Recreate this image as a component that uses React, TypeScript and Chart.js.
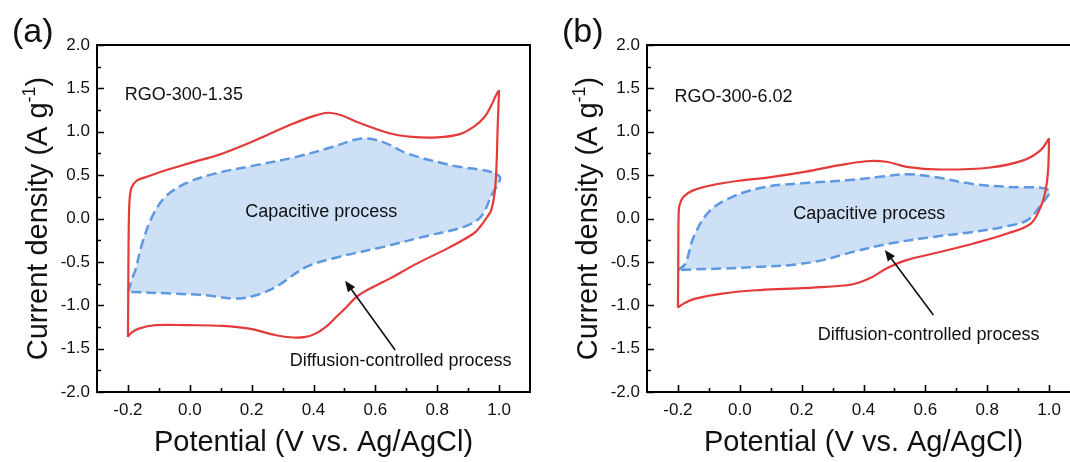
import React, { useEffect, useRef } from "react";
import { Chart, registerables } from "chart.js";

Chart.register(...registerables);

const FONT = "'Liberation Sans', Arial, sans-serif";

// Axis ticks
const X_TICKS = [-0.2, 0, 0.2, 0.4, 0.6, 0.8, 1.0];
const X_MINOR = [-0.1, 0.1, 0.3, 0.5, 0.7, 0.9];
const Y_TICKS = [-2, -1.5, -1, -0.5, 0, 0.5, 1, 1.5, 2];
const Y_MINOR = [-1.75, -1.25, -0.75, -0.25, 0.25, 0.75, 1.25, 1.75];

// RGO-300-1.35: measured CV, anodic sweep (-0.2 -> 1.0 V)
const RGO135_ANODIC: [number, number][] = [
  [-0.2, -1.365], [-0.199, -0.9], [-0.198, -0.3], [-0.195, 0.2], [-0.188, 0.36],
  [-0.17, 0.44], [-0.14, 0.48], [-0.1, 0.53], [-0.003, 0.635], [0.106, 0.75],
  [0.214, 0.904], [0.323, 1.077], [0.4, 1.18], [0.447, 1.219], [0.49, 1.19],
  [0.539, 1.115], [0.648, 0.98], [0.72, 0.94], [0.8, 0.935], [0.87, 0.97],
  [0.919, 1.06], [0.953, 1.17], [0.973, 1.29], [0.99, 1.42], [1.0, 1.48],
];
// RGO-300-1.35: measured CV, cathodic sweep (1.0 -> -0.2 V)
const RGO135_CATHODIC: [number, number][] = [
  [1.0, 1.48], [0.995, 1.0], [0.992, 0.635], [0.986, 0.3], [0.975, 0.1],
  [0.962, 0.02], [0.94, -0.09], [0.919, -0.17], [0.843, -0.327], [0.734, -0.52],
  [0.648, -0.69], [0.615, -0.75], [0.572, -0.827], [0.539, -0.904], [0.507, -1.02],
  [0.475, -1.13], [0.44, -1.25], [0.405, -1.33], [0.37, -1.368], [0.334, -1.372],
  [0.279, -1.346], [0.192, -1.27], [0.106, -1.238], [-0.003, -1.23],
  [-0.111, -1.23], [-0.165, -1.27], [-0.19, -1.32], [-0.2, -1.365],
];
// RGO-300-1.35: capacitive contribution loop
const RGO135_CAPACITIVE: [number, number][] = [
  [-0.2, -0.846], [-0.185, -0.68], [-0.176, -0.596], [-0.154, -0.288], [-0.122, 0.019],
  [-0.079, 0.25], [-0.014, 0.404], [0.084, 0.52], [0.214, 0.615], [0.344, 0.71],
  [0.463, 0.827], [0.53, 0.905], [0.561, 0.923], [0.604, 0.904], [0.648, 0.846],
  [0.702, 0.75], [0.843, 0.615], [1.0, 0.49], [0.973, 0.25], [0.941, 0.019],
  [0.886, -0.096], [0.756, -0.21], [0.626, -0.327], [0.485, -0.44], [0.377, -0.558],
  [0.279, -0.788], [0.214, -0.885], [0.149, -0.923], [0.051, -0.885], [-0.057, -0.865],
  [-0.2, -0.846],
];

// RGO-300-6.02: measured CV, anodic sweep
const RGO602_ANODIC: [number, number][] = [
  [-0.2, -1.027], [-0.199, -0.6], [-0.198, 0.0], [-0.195, 0.15], [-0.182, 0.25],
  [-0.149, 0.327], [-0.089, 0.385], [-0.003, 0.435], [0.106, 0.48], [0.214, 0.54],
  [0.323, 0.615], [0.409, 0.66], [0.474, 0.654], [0.539, 0.596], [0.648, 0.565],
  [0.81, 0.588], [0.919, 0.673], [0.973, 0.788], [1.0, 0.923],
];
// RGO-300-6.02: measured CV, cathodic sweep
const RGO602_CATHODIC: [number, number][] = [
  [1.0, 0.923], [0.997, 0.558], [0.989, 0.327], [0.973, 0.135], [0.941, -0.058],
  [0.865, -0.173], [0.756, -0.288], [0.626, -0.404], [0.539, -0.48], [0.474, -0.577],
  [0.42, -0.69], [0.366, -0.758], [0.279, -0.788], [0.16, -0.808], [0.051, -0.827],
  [-0.057, -0.865], [-0.144, -0.923], [-0.182, -0.981], [-0.2, -1.027],
];
// RGO-300-6.02: capacitive contribution loop
const RGO602_CAPACITIVE: [number, number][] = [
  [-0.2, -0.596], [-0.176, -0.52], [-0.149, -0.212], [-0.1, 0.077], [-0.024, 0.25],
  [0.084, 0.365], [0.214, 0.41], [0.344, 0.44], [0.453, 0.48], [0.539, 0.51],
  [0.626, 0.48], [0.756, 0.396], [0.865, 0.365], [1.0, 0.327], [0.973, 0.154],
  [0.93, -0.019], [0.865, -0.088], [0.756, -0.154], [0.626, -0.212], [0.485, -0.288],
  [0.366, -0.385], [0.268, -0.48], [0.16, -0.538], [0.051, -0.558], [-0.057, -0.577],
  [-0.154, -0.588], [-0.2, -0.596],
];

const RED = "#E53A3A";
const BLUE = "#5E98E0";
const BLUE_FILL = "rgba(196, 218, 245, 0.85)";

type Note = { text: string; x: number; y: number };
type PanelDef = {
  letter: string;
  anodic: [number, number][];
  cathodic: [number, number][];
  capacitive: [number, number][];
  notes: Note[];
  arrowFrom: [number, number];
  arrowTo: [number, number];
};

const PANELS: PanelDef[] = [
  {
    letter: "(a)",
    anodic: RGO135_ANODIC,
    cathodic: RGO135_CATHODIC,
    capacitive: RGO135_CAPACITIVE,
    notes: [
      { text: "RGO-300-1.35", x: -0.21, y: 1.42 },
      { text: "Capacitive process", x: 0.179, y: 0.078 },
      { text: "Diffusion-controlled process", x: 0.323, y: -1.643 },
    ],
    arrowFrom: [0.664, -1.516],
    arrowTo: [0.502, -0.717],
  },
  {
    letter: "(b)",
    anodic: RGO602_ANODIC,
    cathodic: RGO602_CATHODIC,
    capacitive: RGO602_CAPACITIVE,
    notes: [
      { text: "RGO-300-6.02", x: -0.211, y: 1.404 },
      { text: "Capacitive process", x: 0.173, y: 0.052 },
      { text: "Diffusion-controlled process", x: 0.252, y: -1.343 },
    ],
    arrowFrom: [0.626, -1.112],
    arrowTo: [0.469, -0.363],
  },
];

const toPts = (arr: [number, number][]) => arr.map(([x, y]) => ({ x, y }));

function decorPlugin(p: PanelDef) {
  return {
    id: "decor",
    afterDraw(chart: any) {
      const { ctx, chartArea: a } = chart;
      const xs = chart.scales.x;
      const ys = chart.scales.y;
      ctx.save();

      // text notes
      ctx.fillStyle = "#111";
      ctx.textAlign = "left";
      ctx.textBaseline = "middle";
      ctx.font = `18px ${FONT}`;
      for (const n of p.notes) {
        ctx.fillText(n.text, xs.getPixelForValue(n.x), ys.getPixelForValue(n.y));
      }

      // arrow
      const x0 = xs.getPixelForValue(p.arrowFrom[0]);
      const y0 = ys.getPixelForValue(p.arrowFrom[1]);
      const x1 = xs.getPixelForValue(p.arrowTo[0]);
      const y1 = ys.getPixelForValue(p.arrowTo[1]);
      const ang = Math.atan2(y1 - y0, x1 - x0);
      const head = 11;
      const hw = 4.5;
      ctx.strokeStyle = "#111";
      ctx.lineWidth = 1.6;
      ctx.beginPath();
      ctx.moveTo(x0, y0);
      ctx.lineTo(x1 - Math.cos(ang) * head * 0.8, y1 - Math.sin(ang) * head * 0.8);
      ctx.stroke();
      ctx.beginPath();
      ctx.moveTo(x1, y1);
      ctx.lineTo(
        x1 - Math.cos(ang) * head + Math.sin(ang) * hw,
        y1 - Math.sin(ang) * head - Math.cos(ang) * hw
      );
      ctx.lineTo(
        x1 - Math.cos(ang) * head - Math.sin(ang) * hw,
        y1 - Math.sin(ang) * head + Math.cos(ang) * hw
      );
      ctx.closePath();
      ctx.fillStyle = "#111";
      ctx.fill();

      // frame
      ctx.strokeStyle = "#000";
      ctx.lineWidth = 2;
      ctx.strokeRect(a.left, a.top, a.right - a.left, a.bottom - a.top);

      // inward ticks
      ctx.lineWidth = 1.6;
      ctx.beginPath();
      for (const v of X_TICKS) {
        const px = Math.round(xs.getPixelForValue(v)) + 0.5;
        ctx.moveTo(px, a.bottom);
        ctx.lineTo(px, a.bottom - 7);
      }
      for (const v of X_MINOR) {
        const px = Math.round(xs.getPixelForValue(v)) + 0.5;
        ctx.moveTo(px, a.bottom);
        ctx.lineTo(px, a.bottom - 4);
      }
      for (const v of Y_TICKS) {
        const py = Math.round(ys.getPixelForValue(v)) + 0.5;
        ctx.moveTo(a.left, py);
        ctx.lineTo(a.left + 7, py);
      }
      for (const v of Y_MINOR) {
        const py = Math.round(ys.getPixelForValue(v)) + 0.5;
        ctx.moveTo(a.left, py);
        ctx.lineTo(a.left + 4, py);
      }
      ctx.stroke();

      // y-axis title with superscript
      const main = "Current density (A g";
      const sup = "-1";
      const tail = ")";
      ctx.font = `29px ${FONT}`;
      const wMain = ctx.measureText(main).width;
      const wTail = ctx.measureText(tail).width;
      ctx.font = `18px ${FONT}`;
      const wSup = ctx.measureText(sup).width;
      const total = wMain + wSup + wTail;
      ctx.translate(47, (a.top + a.bottom) / 2);
      ctx.rotate(-Math.PI / 2);
      ctx.textBaseline = "alphabetic";
      ctx.fillStyle = "#111";
      let cx = -total / 2;
      ctx.font = `29px ${FONT}`;
      ctx.fillText(main, cx, 0);
      cx += wMain;
      ctx.font = `18px ${FONT}`;
      ctx.fillText(sup, cx, -12);
      cx += wSup;
      ctx.font = `29px ${FONT}`;
      ctx.fillText(tail, cx, 0);
      ctx.setTransform(1, 0, 0, 1, 0, 0);

      // panel letter
      ctx.font = `34px ${FONT}`;
      ctx.textBaseline = "alphabetic";
      ctx.textAlign = "left";
      ctx.fillStyle = "#111";
      ctx.fillText(p.letter, 12, 42);

      ctx.restore();
    },
  };
}

function Panel({ def, left }: { def: PanelDef; left: number }) {
  const ref = useRef<HTMLCanvasElement | null>(null);

  useEffect(() => {
    if (!ref.current) return;
    const chart = new Chart(ref.current, {
      type: "scatter",
      data: {
        datasets: [
          {
            data: toPts(def.anodic),
            showLine: true,
            borderColor: RED,
            borderWidth: 2.2,
            pointRadius: 0,
            tension: 0.35,
            fill: false,
          },
          {
            data: toPts(def.cathodic),
            showLine: true,
            borderColor: RED,
            borderWidth: 2.2,
            pointRadius: 0,
            tension: 0.35,
            fill: false,
          },
          {
            data: toPts(def.capacitive),
            showLine: true,
            borderColor: BLUE,
            borderWidth: 2.5,
            borderDash: [10, 5],
            backgroundColor: BLUE_FILL,
            pointRadius: 0,
            tension: 0.35,
            fill: "shape",
          },
        ],
      },
      options: {
        responsive: false,
        animation: false,
        events: [],
        layout: { padding: { left: 0, top: 45, right: 15, bottom: 0 } },
        plugins: {
          legend: { display: false },
          tooltip: { enabled: false },
        },
        scales: {
          x: {
            type: "linear",
            min: -0.3,
            max: 1.1,
            afterBuildTicks: (s: any) => {
              s.ticks = X_TICKS.map((v) => ({ value: v }));
            },
            afterFit: (s: any) => {
              s.height = 70;
            },
            grid: { display: false, drawTicks: false },
            border: { display: false },
            ticks: {
              autoSkip: false,
              maxRotation: 0,
              padding: 8,
              color: "#111",
              font: { family: FONT, size: 17 },
              callback: (v: any) => Number(v).toFixed(1),
            },
            title: {
              display: true,
              text: "Potential (V vs. Ag/AgCl)",
              color: "#111",
              font: { family: FONT, size: 29 },
              padding: { top: 0, bottom: 2 },
            },
          },
          y: {
            type: "linear",
            min: -2,
            max: 2,
            afterBuildTicks: (s: any) => {
              s.ticks = Y_TICKS.map((v) => ({ value: v }));
            },
            afterFit: (s: any) => {
              s.width = 97;
            },
            grid: { display: false, drawTicks: false },
            border: { display: false },
            ticks: {
              autoSkip: false,
              padding: 7,
              color: "#111",
              font: { family: FONT, size: 17 },
              callback: (v: any) => Number(v).toFixed(1),
            },
          },
        },
      },
      plugins: [decorPlugin(def)],
    } as any);
    return () => chart.destroy();
  }, [def]);

  return (
    <canvas
      ref={ref}
      width={545}
      height={462}
      style={{ position: "absolute", left, top: 0, width: 545, height: 462 }}
    />
  );
}

export default function App() {
  return (
    <div
      style={{
        position: "fixed",
        left: 0,
        top: 0,
        width: 1070,
        height: 462,
        overflow: "hidden",
        background: "#fff",
      }}
    >
      <Panel def={PANELS[0]} left={0} />
      <Panel def={PANELS[1]} left={550} />
    </div>
  );
}
